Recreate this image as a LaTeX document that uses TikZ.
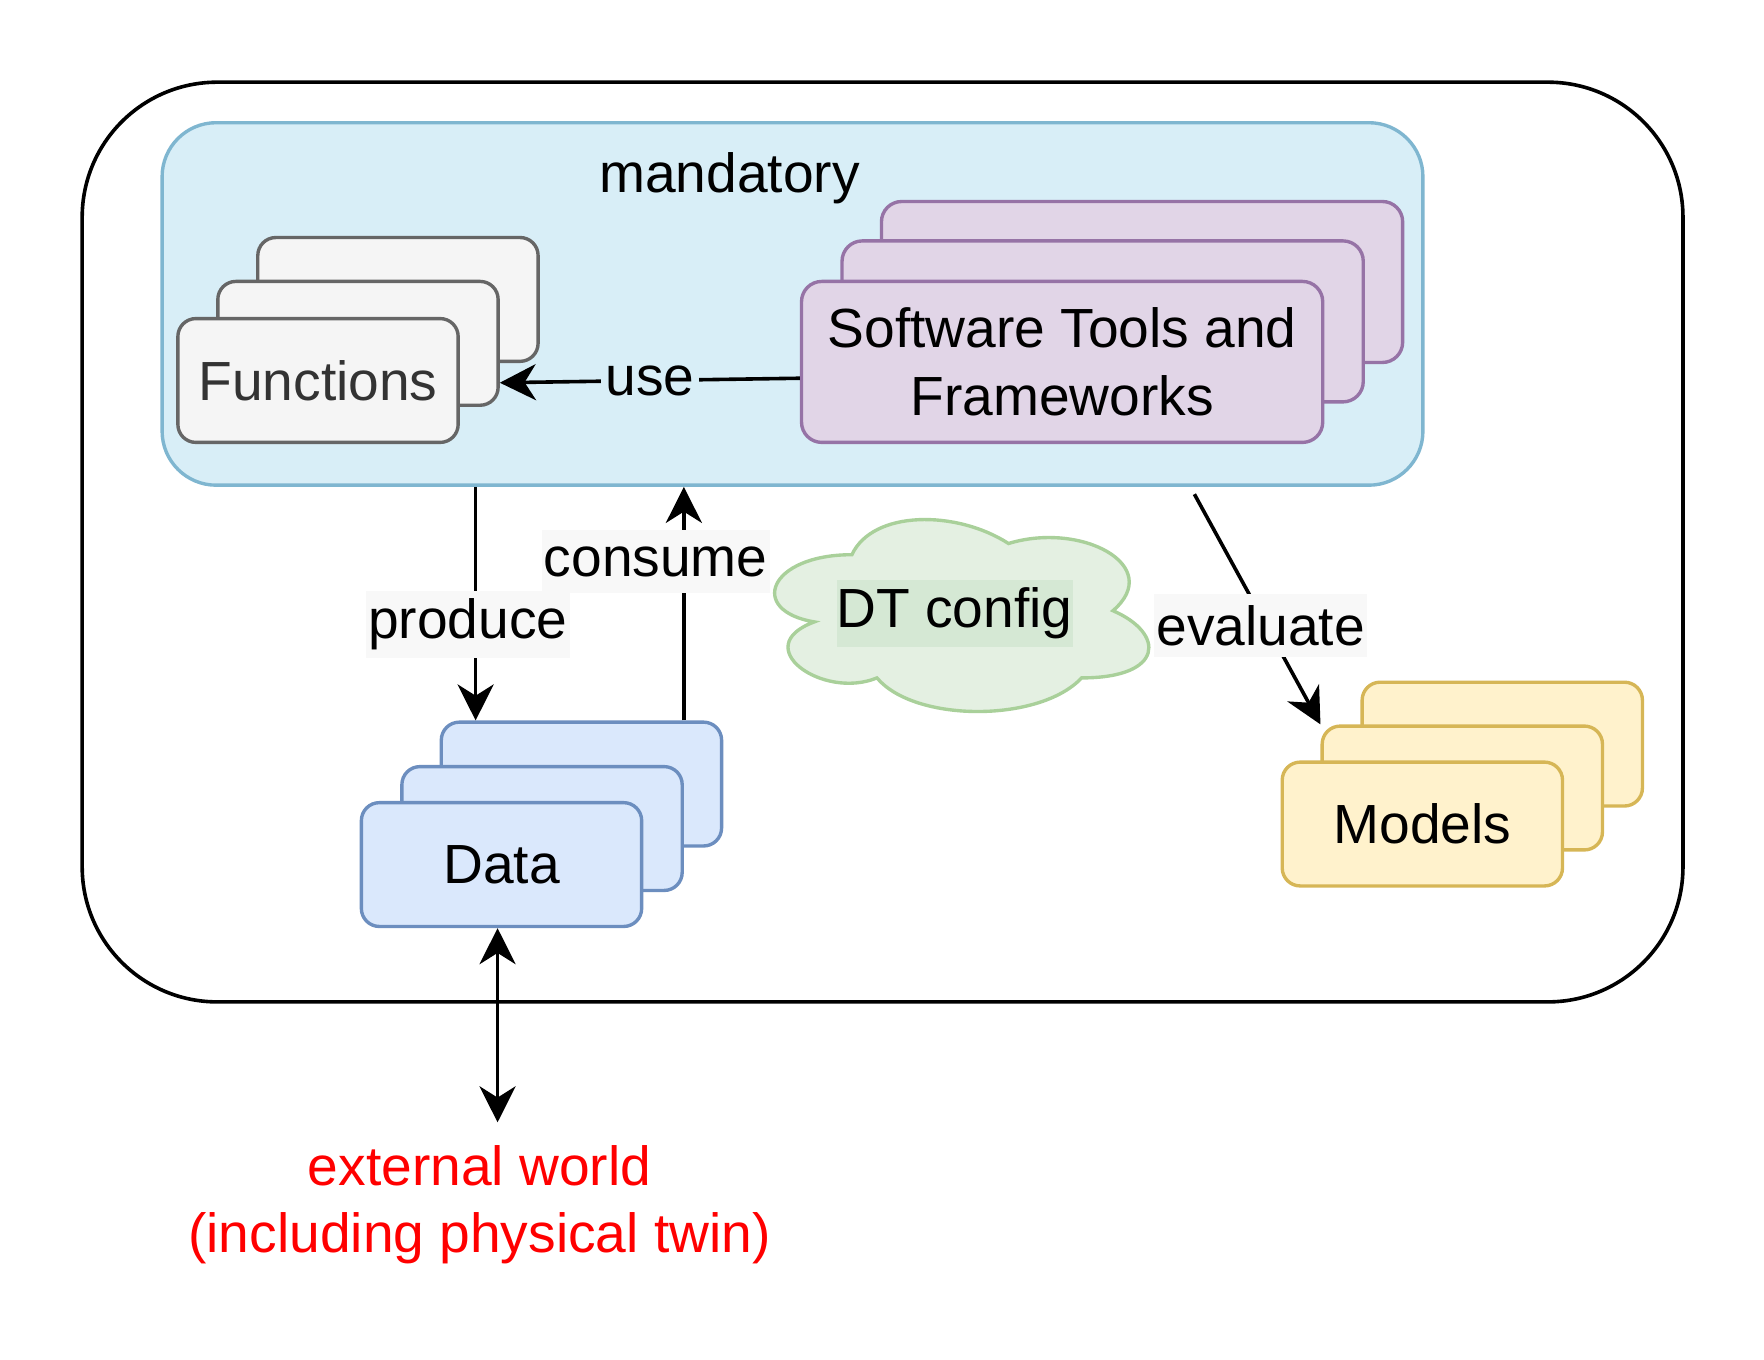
\documentclass[tikz,border=0pt]{standalone}
\usepackage{fontspec}
\setmainfont{Liberation Sans}
\usepackage{xcolor}
\usepackage{tikz}
\usetikzlibrary{shapes.geometric, arrows, arrows.meta, positioning}

\definecolor{mandfill}{HTML}{D8EEF7}
\definecolor{mandline}{HTML}{7FB6D0}
\definecolor{funcfill}{HTML}{F5F5F5}
\definecolor{funcline}{HTML}{666666}
\definecolor{functext}{HTML}{333333}
\definecolor{toolfill}{HTML}{E1D5E7}
\definecolor{toolline}{HTML}{9673A6}
\definecolor{datafill}{HTML}{DAE8FC}
\definecolor{dataline}{HTML}{6C8EBF}
\definecolor{modelfill}{HTML}{FFF2CC}
\definecolor{modelline}{HTML}{D6B656}
\definecolor{cloudfill}{HTML}{E4F0E2}
\definecolor{cloudline}{HTML}{A9D09A}
\definecolor{configbg}{HTML}{D5E8D4}
\definecolor{labelbg}{HTML}{F8F8F8}

\tikzstyle{outerbox} = [rectangle, rounded corners=60pt, 
minimum width=711pt, 
minimum height=408.5pt, 
draw=black, line width=1.6pt]
\tikzstyle{mandbox} = [rectangle, rounded corners=24pt, 
minimum width=560pt, 
minimum height=161pt, 
draw=mandline, fill=mandfill, line width=1.5pt]
\tikzstyle{funcbox} = [rectangle, rounded corners=8pt, 
minimum width=124.5pt, 
minimum height=55pt, 
text centered, text=functext, 
draw=funcline, fill=funcfill, line width=1.5pt]
\tikzstyle{toolbox} = [rectangle, rounded corners=9pt, 
minimum width=231.5pt, 
minimum height=71.5pt, 
align=center, 
draw=toolline, fill=toolfill, line width=1.5pt]
\tikzstyle{databox} = [rectangle, rounded corners=8pt, 
minimum width=124.5pt, 
minimum height=55pt, 
text centered, 
draw=dataline, fill=datafill, line width=1.5pt]
\tikzstyle{modelbox} = [rectangle, rounded corners=8pt, 
minimum width=124.5pt, 
minimum height=55pt, 
text centered, 
draw=modelline, fill=modelfill, line width=1.5pt]
\tikzstyle{cloudshape} = [draw=cloudline, fill=cloudfill, line width=1.5pt]
\tikzstyle{configlabel} = [fill=configbg, inner xsep=0pt, minimum height=29.5pt]
\tikzstyle{arrow} = [line width=1.6pt, -{Stealth[length=16pt, width=16pt, inset=5pt]}]
\tikzstyle{dblarrow} = [line width=1.6pt, {Stealth[length=16pt, width=16pt, inset=5pt]}-{Stealth[length=16pt, width=16pt, inset=5pt]}]
\tikzstyle{edgelabel} = [fill=labelbg, inner xsep=1pt, minimum height=28pt]
\tikzstyle{uselabel} = [fill=mandfill, inner xsep=2pt]
\tikzstyle{exttext} = [align=center, text=red]

\begin{document}
\begin{tikzpicture}[x=0.5pt, y=-0.5pt, font=\fontsize{24.5pt}{30pt}\selectfont]

\useasboundingbox (0,0) rectangle (1567,1208);

\node (twin) [outerbox] at (784,481.5) {};
\node (mand) [mandbox] at (704,270) {};
\node (mand_label) at (648,158) {mandatory};

% stacked boxes, back copies first
\node (func3) [funcbox] at (353.5,266) {};
\node (func2) [funcbox] at (318,305) {};
\node (func1) [funcbox] at (282.5,338) {Functions};

\node (tools3) [toolbox] at (1014.5,250.5) {};
\node (tools2) [toolbox] at (979.5,285.5) {};
\node (tools1) [toolbox] at (943.5,321.5) {Software Tools and\\Frameworks};

\node (data3) [databox] at (516.5,696.5) {};
\node (data2) [databox] at (481.5,736) {};
\node (data1) [databox] at (445.5,768) {Data};

\node (models3) [modelbox] at (1334.5,661) {};
\node (models2) [modelbox] at (1299,700) {};
\node (models1) [modelbox] at (1263.5,732) {Models};

% config cloud
\draw [cloudshape] (756.75,492.75)
  .. controls (682.55,492.75) and (664,542.5) .. (723.36,552.45)
  .. controls (664,574.34) and (730.78,622.1) .. (779.01,602.2)
  .. controls (812.4,642) and (923.7,642) .. (960.8,602.2)
  .. controls (1035,602.2) and (1035,562.4) .. (988.63,542.5)
  .. controls (1035,502.7) and (960.8,462.9) .. (895.88,482.8)
  .. controls (849.5,452.95) and (775.3,452.95) .. (756.75,492.75) -- cycle;
\node (dtconfig) [configlabel] at (848,545) {DT config};

\node (ext) [exttext] at (426,1070) {external world\\(including physical twin)};

\coordinate (prod_end) at ([xshift=16pt]data3.north west);
\coordinate (cons_start) at ([xshift=-17.5pt]data3.north east);
\coordinate (eval_start) at (1061,439);
\coordinate (ext_end) at (442,997);

\draw [arrow] ([yshift=-7.25pt]tools1.west) -- node[uselabel] {use} ([yshift=-17.5pt]func2.east);
\draw [arrow] (mand.south -| prod_end) -- node[edgelabel, pos=0.59, xshift=-3.5pt] {produce} (prod_end);
\draw [arrow] (cons_start) -- node[edgelabel, pos=0.68, xshift=-12.5pt] {consume} (mand.south -| cons_start);
\draw [arrow] (eval_start) -- node[edgelabel, pos=0.57, xshift=-2.5pt] {evaluate} (models2.north west);
\draw [dblarrow] ([xshift=-1.75pt]data1.south) -- (ext_end);

\end{tikzpicture}
\end{document}
